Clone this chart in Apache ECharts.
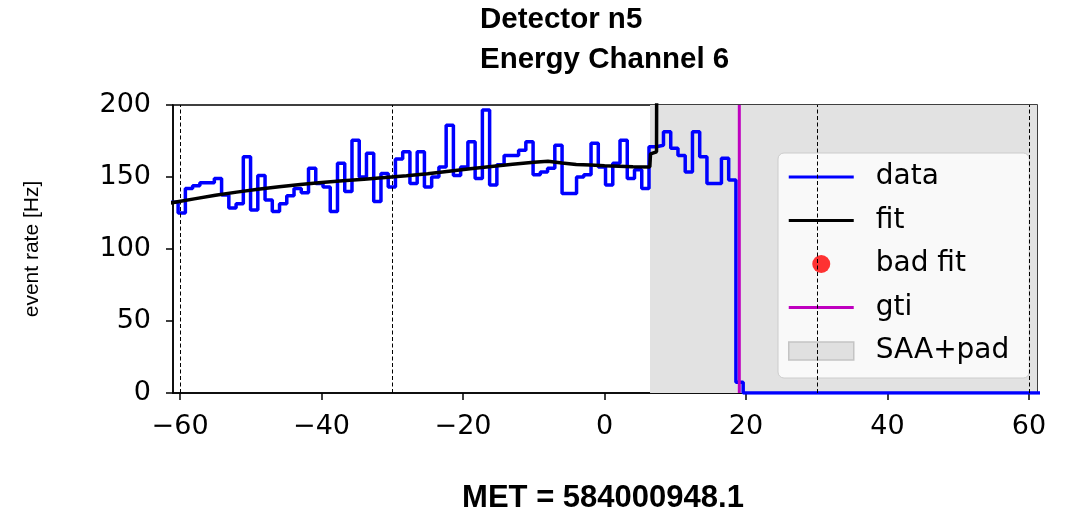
<!DOCTYPE html>
<html>
<head>
<meta charset="utf-8">
<script src="https://cdn.jsdelivr.net/npm/echarts@6/dist/echarts.min.js"></script>
<style>
  html, body { margin: 0; padding: 0; background: #fff; }
  #chart { width: 1071px; height: 514px; }
</style>
</head>
<body>
<div id="chart"></div>
<script>
// binned event rate, 1.024 s bins starting at binStart
var binStart = -61.30;
var binWidth = 1.024;
var rates = [132.5, 125, 142, 144, 146, 146, 149, 137.5, 128.5, 131.5,
             164, 127, 151, 134, 126, 131.5, 137, 142, 139, 156,
             145.5, 143, 126, 159.5, 140, 175.5, 150, 166.5, 133, 152.5,
             143, 162.5, 167.5, 145.5, 167.5, 143, 150, 157, 186, 151,
             157, 174.5, 149, 196.5, 144.5, 158.5, 165, 165, 168.5, 174.5,
             151.5, 153.5, 156, 172, 138.5, 138.5, 150, 151.5, 173.5, 157,
             144.5, 159.5, 175.5, 149, 155, 142, 171, 172, 181.5, 170,
             165, 153.5, 181.5, 164, 145.5, 145.5, 163, 148, 7.5, 0];

// background fit
var fitTime = [-61.3, -58, -55, -52, -49, -46, -43, -40, -37, -34, -31, -28, -25, -22, -19,
               -16, -13, -10, -8, -6, -4, -2, 0, 2, 4, 6.4, 6.5, 7.35, 7.45];
var fitRate = [132, 134.8, 137.3, 139.5, 141.5, 143.3, 144.8, 146.2, 147.4, 148.5, 149.6, 150.8, 152.3, 154, 155.7,
               157.3, 158.8, 160.2, 161, 159.7, 158.7, 158.3, 157.8, 157.5, 157.2, 157, 166, 167.5, 400];

var gtiTime = 19.05;
var saaStart = 6.43;
var markerTimes = [-60, -30, 30, 60];

var xMin = -61.0, xMax = 61.13;
var xTicks = [-60, -40, -20, 0, 20, 40, 60];

var dataPts = rates.map(function (v, i) { return [binStart + i * binWidth, v]; });
dataPts.push([xMax + 1, 0]);
var fitPts = fitTime.map(function (t, i) { return [t, fitRate[i]]; });

var barIcon = 'path://M0,0H65V3H0Z';

function fmt(v) {
    return v < 0 ? '\u2212' + Math.abs(v) : String(v);
}

var chart = echarts.init(document.getElementById('chart'));
chart.setOption({
    animation: false,
    title: {
        text: 'Detector n5\nEnergy Channel 6',
        left: 480, top: 0, padding: 0,
        textStyle: { fontFamily: 'Liberation Sans', fontWeight: 'bold', fontSize: 29.5, lineHeight: 40, color: '#000' }
    },
    grid: { left: 173, right: 34, top: 105, bottom: 121, show: true, borderColor: '#000', borderWidth: 1.5 },
    xAxis: {
        type: 'value', min: xMin, max: xMax,
        axisLine: { show: true, onZero: false, lineStyle: { color: '#000', width: 1.5 } },
        splitLine: { show: false },
        axisTick: { show: true, length: 7, lineStyle: { color: '#000', width: 1.5 }, customValues: xTicks },
        axisLabel: { customValues: xTicks, formatter: fmt, fontFamily: 'DejaVu Sans', fontSize: 27, color: '#000', margin: 20 }
    },
    yAxis: {
        type: 'value', min: 0, max: 200, interval: 50,
        name: 'event rate [Hz]', nameLocation: 'middle', nameGap: 130, nameRotate: 90,
        nameTextStyle: { fontFamily: 'Liberation Sans', fontSize: 21, color: '#000' },
        axisLine: { show: true, onZero: false, lineStyle: { color: '#000', width: 1.5 } },
        splitLine: { show: false },
        axisTick: { show: true, length: 7, lineStyle: { color: '#000', width: 1.5 } },
        axisLabel: { fontFamily: 'DejaVu Sans', fontSize: 27, color: '#000', margin: 22 }
    },
    legend: {
        orient: 'vertical', left: 778, top: 153,
        padding: [9, 20, 12, 10],
        itemWidth: 65, itemHeight: 18, itemGap: 13.5,
        backgroundColor: 'rgba(255,255,255,0.8)', borderColor: '#cccccc', borderWidth: 1, borderRadius: 6,
        textStyle: { fontFamily: 'DejaVu Sans', fontSize: 28, lineHeight: 30, color: '#000', padding: [0, 0, 0, 17] },
        data: [
            { name: 'data', icon: barIcon, itemStyle: { color: '#0000ff' } },
            { name: 'fit', icon: barIcon, itemStyle: { color: '#000000' } },
            { name: 'bad fit', icon: 'circle', itemStyle: { color: '#ff0000' } },
            { name: 'gti', icon: barIcon, itemStyle: { color: '#bf00bf' } },
            { name: 'SAA+pad', icon: 'rect', itemStyle: { color: '#e0e0e0', borderColor: '#c4c4c4', borderWidth: 1.5 } }
        ]
    },
    series: [
        {
            name: 'SAA+pad', type: 'line', data: [], z: 1,
            color: '#e0e0e0',
            markArea: {
                silent: true,
                itemStyle: { color: '#e2e2e2' },
                data: [[{ xAxis: saaStart }, { xAxis: xMax }]]
            },
            markLine: {
                silent: true, symbol: ['none', 'none'],
                label: { show: false },
                lineStyle: { color: '#000', width: 1, type: [4, 2.5] },
                data: markerTimes.map(function (t) { return { xAxis: t }; })
            }
        },
        {
            name: 'data', type: 'line', step: 'end', data: dataPts, z: 3,
            symbol: 'none', color: '#0000ff',
            lineStyle: { color: '#0000ff', width: 3.5 }
        },
        {
            name: 'fit', type: 'line', data: fitPts, z: 4,
            symbol: 'none', color: '#000',
            lineStyle: { color: '#000', width: 3.5 }
        },
        {
            name: 'bad fit', type: 'scatter', data: [], color: '#ff0000'
        },
        {
            name: 'gti', type: 'line', data: [[gtiTime, 0], [gtiTime, 200]], z: 5,
            symbol: 'none', color: '#bf00bf',
            lineStyle: { color: '#bf00bf', width: 3 }
        }
    ],
    graphic: [{
        type: 'text', x: 603, y: 498,
        style: { text: 'MET = 584000948.1', fill: '#000', font: 'bold 31px "Liberation Sans"', align: 'center', verticalAlign: 'middle' }
    }]
});
</script>
</body>
</html>
